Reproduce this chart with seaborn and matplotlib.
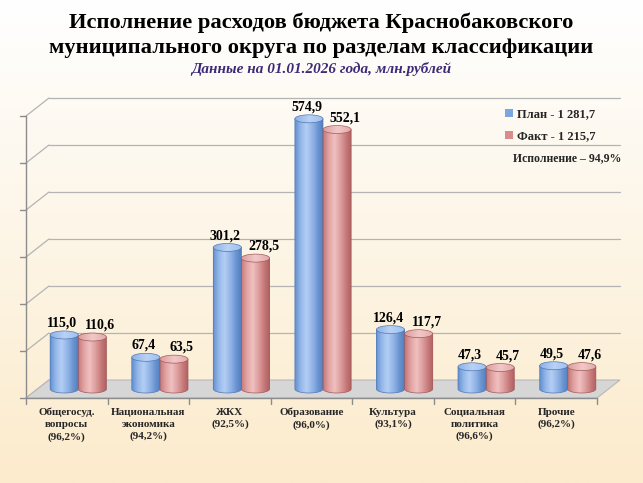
import numpy as np
import pandas as pd
import matplotlib
matplotlib.use("Agg")
import matplotlib.pyplot as plt
import seaborn as sns
from matplotlib.path import Path
from matplotlib.patches import PathPatch, Ellipse, Polygon, Rectangle
from matplotlib.colors import LinearSegmentedColormap

# data
categories = ["Общегосуд.\nвопросы\n(96,2%)", "Национальная\nэкономика\n(94,2%)", "ЖКХ\n(92,5%)",
              "Образование\n(96,0%)", "Культура\n(93,1%)", "Социальная\nполитика\n(96,6%)", "Прочие\n(96,2%)"]
plan = [115.0, 67.4, 301.2, 574.9, 126.4, 47.3, 49.5]
fact = [110.6, 63.5, 278.5, 552.1, 117.7, 45.7, 47.6]
series = ["План - 1 281,7", "Факт - 1 215,7"]
note = "Исполнение – 94,9%"
title = "Исполнение расходов бюджета Краснобаковского\nмуниципального округа по разделам классификации"
subtitle = "Данные на 01.01.2026 года, млн.рублей"

df = pd.DataFrame({
    "cat": categories * 2,
    "value": plan + fact,
    "series": [series[0]] * len(plan) + [series[1]] * len(fact),
})

sns.set_theme(style="white")
plt.rcParams['font.family'] = ['Liberation Serif', 'DejaVu Serif']

W, H = 643, 483
fig = plt.figure(figsize=(W / 100, H / 100), dpi=100)

# background gradient
bg_cmap = LinearSegmentedColormap.from_list("bg", ["#ffffff", "#fdf5e6", "#fcebcc"])
bg = fig.add_axes([0, 0, 1, 1], zorder=-10)
bg.imshow(np.linspace(0, 1, 256)[:, None], cmap=bg_cmap, aspect='auto', extent=(0, 1, 0, 1), origin='upper')
bg.axis('off')

# main axes = middle depth plane of the pseudo 3D box
ax = fig.add_axes([37.5 / W, (H - 398) / H, 571 / W, 291 / H])
ax.set_facecolor('none')

blue, red = "#7da6df", "#d98c8c"
sns.barplot(data=df, x="cat", y="value", hue="series", palette=[blue, red],
            width=0.69, saturation=1, errorbar=None, ax=ax, linewidth=0, zorder=2)
bars = [p for p in ax.patches if isinstance(p, Rectangle) and p.get_height() > 0 and p.get_width() < 0.5]

px_x = 571 / 7
px_y = 282 / 600
dx = 11.5 / px_x       # half depth offset
dy = 9 / px_y
hh = 4 / px_y          # half height of cylinder caps
ymax = 600

# floor, back wall and front axes
edges = np.arange(len(categories) + 1) - 0.5
x_l, x_r = edges[0], edges[-1]
floor = Polygon([(x_l - dx, -dy), (x_r - dx, -dy), (x_r + dx, dy), (x_l + dx, dy)],
                closed=True, facecolor="#d6d6d6", edgecolor="#b8b8b8", lw=0.8, zorder=1, clip_on=False)
ax.add_patch(floor)
for v in range(100, ymax + 1, 100):
    ax.plot([x_l + dx, x_r + dx], [v + dy, v + dy], color="#b4b4b4", lw=0.9, zorder=0.5, clip_on=False)
for v in range(0, ymax + 1, 100):
    ax.plot([x_l - dx, x_l + dx], [v - dy, v + dy], color="#b4b4b4", lw=0.9, zorder=0.5, clip_on=False)
    ax.plot([x_l - dx - 6 / px_x, x_l - dx], [v - dy, v - dy], color="#8c8c8c", lw=1, zorder=1, clip_on=False)
ax.plot([x_l - dx, x_l - dx], [-dy, ymax - dy], color="#8c8c8c", lw=1, zorder=1, clip_on=False)
ax.plot([x_l - dx, x_r - dx], [-dy, -dy], color="#8c8c8c", lw=1, zorder=1.2, clip_on=False)
for e in edges:
    ax.plot([e - dx, e - dx], [-dy, -dy - 6 / px_y], color="#8c8c8c", lw=1, zorder=1, clip_on=False)

# cylinders drawn over the seaborn bars
grad = np.linspace(0, 1, 64)[None, :]
body_cmaps = {
    blue: LinearSegmentedColormap.from_list("b", ["#6590cf", "#96b9ea", "#b3cef4", "#93b5e8", "#6c96d2", "#517dbd"]),
    red: LinearSegmentedColormap.from_list("r", ["#c67676", "#e2a4a4", "#f0c0c0", "#dea0a0", "#c87a7a", "#ad5f5f"]),
}
cap_cmaps = {
    blue: LinearSegmentedColormap.from_list("bc", ["#8fb1e6", "#b9d2f5", "#9fbfee"]),
    red: LinearSegmentedColormap.from_list("rc", ["#dc9e9e", "#f3c8c8", "#e2a9a9"]),
}
edge_cols = {blue: "#4f79b5", red: "#a35a5a"}
label_shift = {blue: -2, red: 8}   # pixel nudge of value labels, as in the reference

for p, col in zip(bars, [blue] * len(plan) + [red] * len(fact)):
    x0, w, h = p.get_x(), p.get_width(), p.get_height()
    xc = x0 + w / 2
    t = np.linspace(np.pi, 2 * np.pi, 40)
    arc = np.column_stack([xc + w / 2 * np.cos(t), hh * np.sin(t)])
    verts = np.vstack([[x0, h], arc, [x0 + w, h], [x0, h]])
    body = PathPatch(Path(verts), facecolor='none', edgecolor=edge_cols[col], lw=0.5, zorder=4)
    ax.add_patch(body)
    im = ax.imshow(grad, cmap=body_cmaps[col], extent=(x0, x0 + w, -hh, h), aspect='auto',
                   zorder=3, interpolation='bilinear')
    im.set_clip_path(body)
    cap = Ellipse((xc, h), w, 2 * hh, facecolor='none', edgecolor=edge_cols[col], lw=0.5, zorder=6)
    ax.add_patch(cap)
    im2 = ax.imshow(grad, cmap=cap_cmaps[col], extent=(x0, x0 + w, h - hh, h + hh), aspect='auto',
                    zorder=5, interpolation='bilinear')
    im2.set_clip_path(cap)
    ax.annotate(f"{h:.1f}".replace(".", ","), (xc, h + hh), xytext=(label_shift[col] * 0.72, 1),
                textcoords='offset points', ha='center', va='bottom', fontsize=10,
                fontweight='bold', color='black', zorder=7)

ax.set_xlim(x_l, x_r)
ax.set_ylim(-dy, ymax)
ax.set_xticks(np.arange(len(categories)) - dx, categories)
ax.set_yticks([])
ax.tick_params(axis='x', length=0, pad=7, labelsize=8)
for lab in ax.get_xticklabels():
    lab.set_fontweight('bold')
    lab.set_linespacing(1.4)
ax.set_xlabel("")
ax.set_ylabel("")
for s in ax.spines.values():
    s.set_visible(False)

sns.move_legend(ax, "upper left", bbox_to_anchor=(505 / W, 1 - 108 / H), bbox_transform=fig.transFigure,
                title=None, frameon=False, fontsize=9, handlelength=0.6, handleheight=0.6,
                handletextpad=0.35, labelspacing=0.85, borderaxespad=0, borderpad=0)
for txt in ax.get_legend().get_texts():
    txt.set_fontweight('bold')
fig.text(513 / W, 1 - 158 / H, note, ha='left', va='center', fontsize=8.5, fontweight='bold')

fig.text(0.5, 1 - 35 / H, title, ha='center', va='center', fontsize=16.2, fontweight='bold',
         linespacing=1.35, color='black')
fig.text(0.5, 1 - 69 / H, subtitle, ha='center', va='center', fontsize=11, fontweight='bold',
         style='italic', color='#3c2a78')

fig.savefig("out.png", dpi=100)
